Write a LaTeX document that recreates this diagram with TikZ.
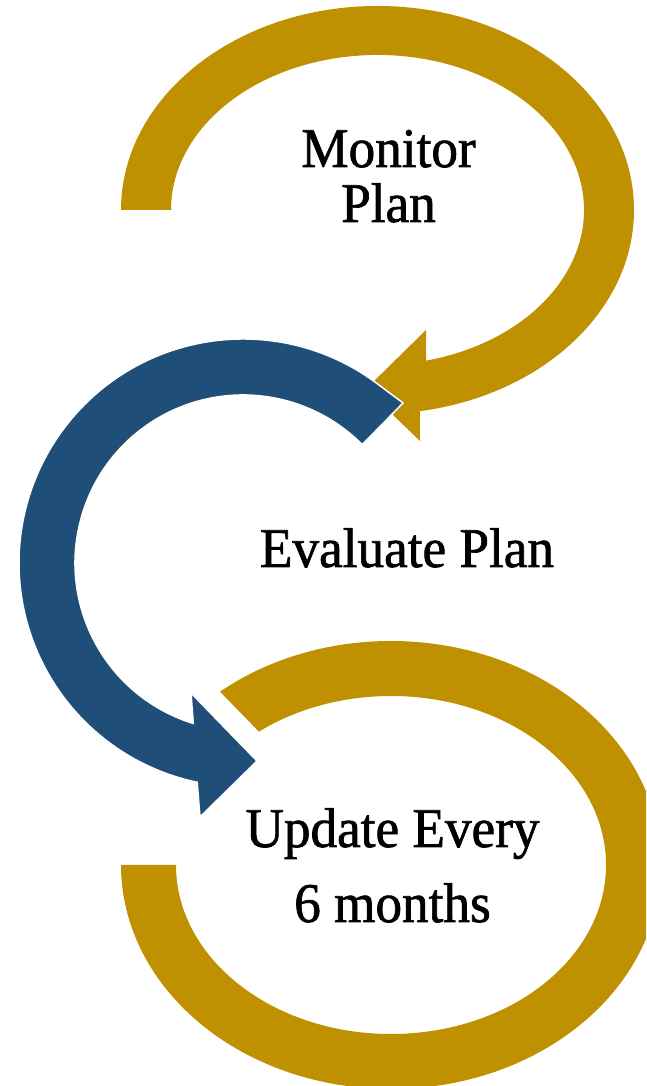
\documentclass[tikz,border=0pt]{standalone}
\usepackage{fontspec}
\setmainfont{Liberation Serif}[FakeStretch=0.95, FakeBold=1.2]
\usetikzlibrary{calc}
\definecolor{cyclegold}{HTML}{BF9000}
\definecolor{cycleblue}{HTML}{1F4E79}
\tikzset{steplabel/.style={font=\fontsize{56}{55}\selectfont, align=center, anchor=base, inner sep=0pt}}

\begin{document}
\begin{tikzpicture}[x=1pt,y=1pt]
	%%%%% START %%%%%
	\useasboundingbox (0,0) rectangle (646,1086);
	\clip (0,0) rectangle (646,1086);
	
	\coordinate (monitorc) at (377.5,876);
	\coordinate (evalc) at (243,523);
	\coordinate (updatec) at (391,221);
	
	% top arrow
	\fill[cyclegold] ($(monitorc)+(180:256.5 and 204)$) arc[start angle=180, end angle=-80.5, x radius=256.5, y radius=204]
		-- (420,645) -- (366,697) -- (426,756)
		-- ($(monitorc)+(-76.4:206.5 and 155)$) arc[start angle=-76.4, end angle=180, x radius=206.5, y radius=155] -- cycle;
	
	% bottom arrow
	\fill[cyclegold] ($(updatec)+(129.3:270 and 224)$) arc[start angle=129.3, end angle=-180, x radius=270, y radius=224]
		-- ($(updatec)+(180:215 and 169)$) arc[start angle=-180, end angle=127.9, x radius=215, y radius=169] -- cycle;
	
	% middle arrow
	\filldraw[fill=cycleblue, draw=white, line width=1.5pt] ($(evalc)+(53.9:224)$) arc[start angle=53.9, end angle=258.2, radius=224]
		-- (200,269) -- (257,325) -- (191,393)
		-- ($(evalc)+(252.8:168)$) arc[start angle=252.8, end angle=44.8, radius=168]
		-- (403,683) -- cycle;
	
	% labels (base = last line)
	\node[steplabel] (monitor) at (388.5,864) {Monitor\\Plan};
	\node[steplabel] (evaluate) at (407,519) {Evaluate Plan};
	\node[steplabel] (update) at (392.5,164) {Update Every\\[20pt]6 months};
	%%%%% END %%%%%
\end{tikzpicture}
\end{document}
